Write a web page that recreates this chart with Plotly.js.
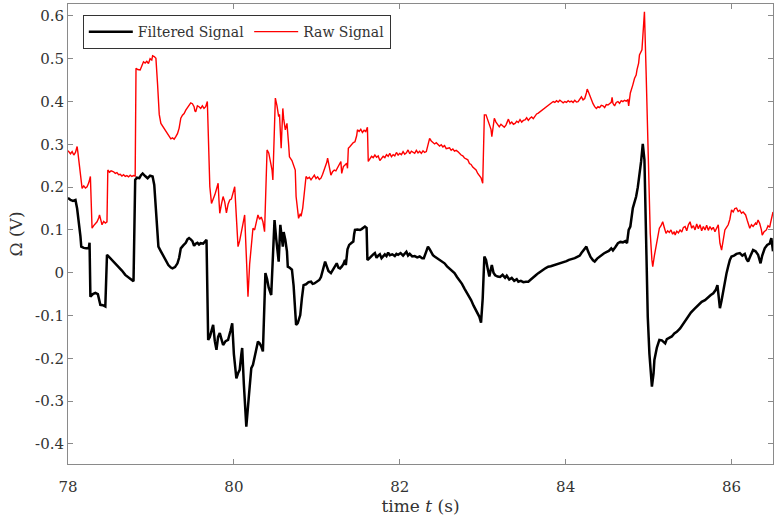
<!DOCTYPE html>
<html>
<head>
<meta charset="utf-8">
<script src="https://cdn.plot.ly/plotly-3.0.1.min.js"></script>
<style>html,body{margin:0;padding:0;background:#fff;}#chart{width:779px;height:524px;}</style>
</head>
<body>
<div id="chart"></div>
<script>
// Filtered signal
const filtT = [78.00,78.03,78.06,78.09,78.11,78.13,78.15,78.16,78.19,78.22,78.25,78.26,78.27,78.30,78.33,78.36,78.38,78.39,78.42,78.45,78.47,78.50,78.53,78.57,78.61,78.65,78.69,78.73,78.77,78.79,78.81,78.83,78.86,78.88,78.90,78.93,78.96,78.99,79.02,79.04,79.06,79.09,79.12,79.15,79.18,79.21,79.24,79.26,79.29,79.32,79.34,79.36,79.39,79.42,79.44,79.46,79.48,79.50,79.52,79.54,79.56,79.58,79.60,79.63,79.67,79.69,79.71,79.73,79.75,79.77,79.79,79.81,79.83,79.85,79.87,79.90,79.93,79.96,79.98,80.00,80.03,80.05,80.07,80.09,80.10,80.12,80.15,80.18,80.21,80.23,80.25,80.27,80.29,80.31,80.33,80.35,80.38,80.40,80.42,80.45,80.47,80.49,80.51,80.53,80.54,80.56,80.57,80.59,80.60,80.62,80.64,80.65,80.67,80.70,80.72,80.74,80.75,80.77,80.80,80.82,80.84,80.87,80.90,80.93,80.95,80.97,81.00,81.03,81.05,81.07,81.10,81.12,81.14,81.17,81.19,81.22,81.24,81.26,81.28,81.30,81.32,81.34,81.35,81.37,81.39,81.42,81.44,81.45,81.46,81.49,81.52,81.54,81.56,81.58,81.60,81.61,81.63,81.66,81.68,81.70,81.72,81.74,81.76,81.78,81.80,81.82,81.84,81.86,81.88,81.91,81.94,81.96,81.98,82.01,82.04,82.06,82.08,82.10,82.12,82.15,82.18,82.21,82.24,82.27,82.29,82.32,82.34,82.36,82.38,82.40,82.42,82.45,82.48,82.51,82.54,82.57,82.60,82.63,82.66,82.69,82.72,82.75,82.78,82.81,82.84,82.86,82.89,82.92,82.94,82.96,82.98,83.00,83.02,83.04,83.06,83.08,83.10,83.11,83.13,83.15,83.18,83.21,83.24,83.27,83.29,83.32,83.35,83.38,83.41,83.43,83.46,83.49,83.52,83.55,83.58,83.61,83.64,83.67,83.70,83.73,83.76,83.79,83.82,83.85,83.88,83.91,83.95,83.98,84.01,84.04,84.07,84.11,84.14,84.17,84.19,84.22,84.25,84.27,84.30,84.33,84.35,84.38,84.41,84.43,84.46,84.49,84.52,84.55,84.57,84.60,84.63,84.66,84.69,84.72,84.74,84.76,84.78,84.81,84.83,84.85,84.87,84.89,84.91,84.93,84.95,84.97,84.99,85.01,85.04,85.06,85.07,85.10,85.13,85.16,85.18,85.20,85.22,85.25,85.28,85.31,85.34,85.38,85.41,85.44,85.48,85.51,85.55,85.58,85.61,85.64,85.68,85.71,85.75,85.78,85.81,85.83,85.85,85.86,85.88,85.90,85.92,85.94,85.96,85.98,86.00,86.03,86.06,86.10,86.13,86.16,86.18,86.20,86.23,86.26,86.29,86.32,86.35,86.37,86.40,86.43,86.46,86.48,86.50];
const filtV = [0.175,0.170,0.168,0.170,0.150,0.123,0.085,0.061,0.058,0.057,0.057,0.070,-0.056,-0.050,-0.047,-0.050,-0.070,-0.075,-0.076,-0.079,0.042,0.036,0.030,0.022,0.014,0.005,-0.005,-0.010,-0.017,-0.020,0.217,0.222,0.221,0.228,0.232,0.226,0.221,0.227,0.225,0.205,0.140,0.061,0.050,0.040,0.030,0.018,0.012,0.010,0.013,0.022,0.035,0.057,0.064,0.070,0.078,0.081,0.078,0.074,0.063,0.068,0.070,0.066,0.069,0.068,0.077,-0.157,-0.150,-0.135,-0.122,-0.160,-0.180,-0.150,-0.141,-0.155,-0.169,-0.160,-0.157,-0.135,-0.118,-0.190,-0.247,-0.235,-0.227,-0.190,-0.176,-0.260,-0.360,-0.290,-0.223,-0.215,-0.196,-0.185,-0.161,-0.165,-0.172,-0.184,-0.001,-0.015,-0.035,-0.052,0.050,0.123,0.080,0.040,0.026,0.112,0.090,0.061,0.095,0.077,0.050,0.014,0.012,0.007,-0.030,-0.100,-0.122,-0.118,-0.099,-0.060,-0.029,-0.027,-0.022,-0.021,-0.026,-0.025,-0.020,-0.017,-0.010,0.005,0.026,0.015,0.004,-0.001,0.006,0.015,0.022,0.012,0.010,0.014,0.020,0.030,0.018,0.055,0.065,0.070,0.073,0.090,0.100,0.101,0.100,0.102,0.105,0.108,0.105,0.030,0.033,0.040,0.043,0.046,0.035,0.040,0.043,0.034,0.040,0.043,0.039,0.047,0.041,0.043,0.039,0.044,0.042,0.046,0.040,0.044,0.049,0.040,0.044,0.038,0.039,0.036,0.038,0.034,0.034,0.050,0.061,0.055,0.046,0.041,0.038,0.034,0.030,0.026,0.022,0.015,0.010,0.004,-0.001,-0.010,-0.017,-0.026,-0.037,-0.046,-0.058,-0.064,-0.077,-0.087,-0.095,-0.103,-0.117,-0.060,0.038,0.030,0.010,-0.009,0.010,0.018,0.000,-0.006,-0.009,-0.010,-0.005,-0.012,-0.007,-0.016,-0.012,-0.019,-0.015,-0.021,-0.019,-0.022,-0.021,-0.021,-0.016,-0.012,-0.006,-0.001,0.004,0.007,0.011,0.014,0.015,0.017,0.019,0.021,0.022,0.025,0.027,0.030,0.031,0.034,0.037,0.040,0.046,0.055,0.061,0.050,0.037,0.029,0.026,0.033,0.038,0.042,0.045,0.048,0.051,0.057,0.052,0.060,0.069,0.072,0.071,0.074,0.069,0.100,0.108,0.151,0.165,0.178,0.200,0.225,0.260,0.301,0.264,0.080,-0.103,-0.190,-0.266,-0.235,-0.204,-0.175,-0.157,-0.158,-0.162,-0.165,-0.155,-0.152,-0.149,-0.142,-0.138,-0.130,-0.121,-0.113,-0.099,-0.093,-0.085,-0.079,-0.074,-0.068,-0.064,-0.058,-0.052,-0.048,-0.040,-0.029,-0.060,-0.083,-0.065,-0.040,-0.018,-0.001,0.015,0.030,0.038,0.040,0.044,0.046,0.040,0.044,0.032,0.026,0.040,0.053,0.050,0.042,0.022,0.040,0.057,0.065,0.068,0.081,0.050];

// Raw signal
const rawT = [78.00,78.03,78.05,78.07,78.09,78.11,78.12,78.14,78.16,78.17,78.19,78.21,78.23,78.25,78.27,78.28,78.29,78.31,78.33,78.35,78.37,78.38,78.40,78.41,78.43,78.45,78.47,78.48,78.50,78.52,78.55,78.57,78.59,78.61,78.63,78.65,78.67,78.69,78.71,78.73,78.75,78.77,78.79,78.81,78.82,78.84,78.87,78.89,78.91,78.93,78.95,78.97,78.99,79.01,79.02,79.04,79.06,79.08,79.10,79.12,79.14,79.16,79.18,79.20,79.22,79.24,79.26,79.28,79.30,79.32,79.34,79.36,79.38,79.40,79.42,79.44,79.46,79.48,79.50,79.52,79.53,79.54,79.56,79.58,79.60,79.62,79.64,79.66,79.68,79.69,79.71,79.73,79.75,79.77,79.79,79.81,79.82,79.83,79.85,79.87,79.89,79.91,79.93,79.95,79.97,79.99,80.01,80.03,80.05,80.07,80.09,80.11,80.13,80.15,80.17,80.19,80.21,80.23,80.25,80.27,80.29,80.31,80.33,80.35,80.37,80.40,80.42,80.44,80.46,80.47,80.50,80.52,80.54,80.55,80.57,80.59,80.60,80.62,80.64,80.66,80.67,80.70,80.72,80.74,80.75,80.77,80.78,80.80,80.81,80.83,80.85,80.87,80.89,80.91,80.93,80.95,80.97,80.99,81.01,81.03,81.05,81.07,81.09,81.10,81.12,81.13,81.15,81.17,81.19,81.21,81.23,81.25,81.27,81.29,81.30,81.32,81.34,81.36,81.37,81.38,81.40,81.42,81.44,81.46,81.48,81.49,81.51,81.53,81.55,81.57,81.59,81.61,81.62,81.64,81.66,81.68,81.70,81.72,81.74,81.76,81.78,81.80,81.82,81.84,81.86,81.88,81.90,81.92,81.94,81.96,81.98,82.00,82.02,82.04,82.06,82.08,82.10,82.12,82.14,82.16,82.18,82.20,82.22,82.24,82.26,82.28,82.30,82.32,82.34,82.36,82.38,82.40,82.42,82.44,82.46,82.48,82.50,82.52,82.54,82.56,82.58,82.60,82.62,82.64,82.66,82.68,82.70,82.72,82.74,82.76,82.78,82.80,82.82,82.84,82.86,82.88,82.90,82.92,82.94,82.96,82.98,83.00,83.02,83.04,83.06,83.08,83.10,83.11,83.13,83.14,83.16,83.18,83.20,83.22,83.24,83.26,83.28,83.30,83.31,83.33,83.35,83.37,83.39,83.41,83.43,83.45,83.47,83.49,83.51,83.53,83.55,83.57,83.59,83.61,83.63,83.65,83.67,83.69,83.71,83.73,83.75,83.77,83.79,83.81,83.83,83.85,83.87,83.89,83.91,83.93,83.95,83.97,83.99,84.01,84.03,84.05,84.07,84.09,84.11,84.13,84.15,84.17,84.19,84.21,84.23,84.25,84.26,84.28,84.30,84.31,84.33,84.35,84.37,84.39,84.41,84.43,84.45,84.47,84.49,84.51,84.53,84.55,84.56,84.57,84.59,84.61,84.63,84.65,84.67,84.69,84.71,84.73,84.75,84.76,84.78,84.80,84.81,84.83,84.85,84.86,84.88,84.89,84.91,84.92,84.94,84.95,84.97,84.99,85.01,85.02,85.04,85.05,85.07,85.09,85.11,85.13,85.15,85.17,85.19,85.21,85.23,85.25,85.27,85.29,85.31,85.32,85.34,85.36,85.38,85.40,85.42,85.44,85.46,85.48,85.50,85.52,85.54,85.56,85.58,85.60,85.62,85.64,85.66,85.68,85.70,85.72,85.74,85.76,85.78,85.80,85.82,85.84,85.85,85.86,85.88,85.90,85.92,85.94,85.96,85.98,86.00,86.02,86.04,86.06,86.08,86.10,86.12,86.14,86.17,86.19,86.22,86.24,86.26,86.29,86.30,86.32,86.34,86.36,86.37,86.39,86.42,86.44,86.46,86.47,86.49,86.50];
const rawV = [0.285,0.278,0.283,0.275,0.281,0.295,0.280,0.248,0.225,0.197,0.203,0.198,0.201,0.210,0.225,0.180,0.104,0.110,0.115,0.119,0.128,0.135,0.120,0.112,0.120,0.116,0.119,0.240,0.235,0.238,0.236,0.232,0.234,0.229,0.230,0.226,0.229,0.225,0.227,0.224,0.228,0.225,0.227,0.226,0.478,0.475,0.474,0.485,0.493,0.490,0.494,0.489,0.500,0.497,0.507,0.505,0.501,0.440,0.370,0.349,0.343,0.336,0.330,0.322,0.316,0.313,0.315,0.312,0.318,0.325,0.338,0.361,0.368,0.372,0.380,0.385,0.390,0.397,0.395,0.388,0.378,0.376,0.390,0.388,0.384,0.390,0.384,0.388,0.400,0.330,0.201,0.162,0.170,0.182,0.195,0.209,0.170,0.139,0.160,0.178,0.165,0.140,0.160,0.170,0.172,0.185,0.201,0.130,0.061,0.075,0.092,0.115,0.135,0.040,-0.056,0.020,0.070,0.104,0.100,0.120,0.135,0.125,0.130,0.119,0.096,0.287,0.280,0.260,0.240,0.217,0.408,0.390,0.365,0.370,0.291,0.384,0.360,0.334,0.349,0.300,0.271,0.262,0.252,0.240,0.178,0.140,0.127,0.138,0.132,0.151,0.190,0.225,0.220,0.223,0.217,0.222,0.228,0.220,0.224,0.218,0.221,0.230,0.240,0.248,0.258,0.268,0.245,0.228,0.236,0.240,0.238,0.246,0.252,0.260,0.232,0.248,0.252,0.256,0.244,0.291,0.295,0.300,0.304,0.306,0.320,0.334,0.330,0.335,0.328,0.333,0.330,0.340,0.260,0.266,0.272,0.269,0.275,0.270,0.273,0.262,0.268,0.272,0.269,0.276,0.272,0.279,0.271,0.276,0.273,0.281,0.275,0.279,0.276,0.283,0.277,0.280,0.287,0.278,0.284,0.281,0.279,0.286,0.280,0.284,0.279,0.285,0.281,0.283,0.300,0.314,0.308,0.305,0.301,0.304,0.299,0.296,0.299,0.294,0.297,0.290,0.291,0.292,0.286,0.289,0.284,0.286,0.283,0.278,0.275,0.273,0.268,0.266,0.264,0.255,0.253,0.247,0.244,0.240,0.232,0.228,0.222,0.209,0.369,0.369,0.356,0.349,0.335,0.318,0.340,0.361,0.352,0.346,0.341,0.347,0.344,0.340,0.345,0.352,0.359,0.348,0.352,0.347,0.349,0.354,0.351,0.358,0.352,0.356,0.357,0.362,0.356,0.361,0.364,0.360,0.365,0.371,0.373,0.376,0.379,0.380,0.384,0.387,0.390,0.393,0.396,0.400,0.398,0.402,0.399,0.403,0.400,0.397,0.400,0.398,0.402,0.399,0.401,0.398,0.403,0.399,0.400,0.405,0.411,0.404,0.407,0.420,0.429,0.420,0.408,0.404,0.395,0.388,0.384,0.388,0.386,0.391,0.390,0.386,0.393,0.392,0.396,0.398,0.410,0.396,0.390,0.398,0.400,0.396,0.402,0.400,0.403,0.401,0.404,0.390,0.420,0.431,0.439,0.454,0.462,0.474,0.490,0.509,0.515,0.521,0.580,0.610,0.470,0.326,0.180,0.092,0.030,0.014,0.040,0.061,0.090,0.104,0.110,0.119,0.105,0.092,0.098,0.094,0.100,0.090,0.096,0.088,0.097,0.093,0.100,0.095,0.106,0.108,0.098,0.112,0.119,0.104,0.110,0.100,0.114,0.103,0.112,0.098,0.108,0.100,0.111,0.099,0.108,0.101,0.106,0.096,0.104,0.112,0.090,0.069,0.053,0.080,0.100,0.106,0.112,0.125,0.147,0.142,0.150,0.151,0.143,0.146,0.139,0.142,0.135,0.122,0.104,0.112,0.108,0.116,0.112,0.123,0.115,0.100,0.088,0.095,0.100,0.110,0.106,0.116,0.135,0.142];

const xTicks = [78, 80, 82, 84, 86];
const yTicks = [0.6, 0.5, 0.4, 0.3, 0.2, 0.1, 0, -0.1, -0.2, -0.3, -0.4];
const yTickText = ['0.6','0.5','0.4','0.3','0.2','0.1','0','-0.1','-0.2','-0.3','-0.4'];

const serif = 'DejaVu Serif, serif';
const axisCol = '#8a8a8a';

const traces = [
  {x: filtT, y: filtV, type: 'scatter', mode: 'lines', name: 'Filtered Signal',
   line: {color: '#000000', width: 2.5}},
  {x: rawT, y: rawV, type: 'scatter', mode: 'lines', name: 'Raw Signal',
   line: {color: '#ff0000', width: 1.4}}
];

const layout = {
  width: 779, height: 524,
  margin: {l: 68, r: 6, t: 4, b: 60},
  paper_bgcolor: '#ffffff', plot_bgcolor: '#ffffff',
  showlegend: true,
  legend: {
    x: 0.021, y: 0.976, xanchor: 'left', yanchor: 'top',
    orientation: 'h', bgcolor: '#ffffff', bordercolor: '#333333', borderwidth: 1,
    itemwidth: 44,
    font: {family: serif, size: 14, color: '#333333'}
  },
  xaxis: {
    range: [78, 86.5], tickvals: xTicks, ticktext: xTicks.map(String),
    ticks: 'inside', ticklen: 5, tickwidth: 1, tickcolor: axisCol,
    showline: true, linecolor: axisCol, linewidth: 1, mirror: 'allticks',
    showgrid: false, zeroline: false, ticklabelstandoff: 9,
    tickfont: {family: serif, size: 15, color: '#333333'},
    title: {text: 'time <i>t</i> (s)', font: {family: serif, size: 17, color: '#333333'}, standoff: 3}
  },
  yaxis: {
    range: [-0.447, 0.628], tickvals: yTicks, ticktext: yTickText,
    ticks: 'inside', ticklen: 5, tickwidth: 1, tickcolor: axisCol,
    showline: true, linecolor: axisCol, linewidth: 1, mirror: 'allticks',
    showgrid: false, zeroline: false,
    tickfont: {family: serif, size: 15, color: '#333333'},
    title: {text: 'Ω (V)', font: {family: serif, size: 17, color: '#333333'}, standoff: 8}
  }
};

Plotly.newPlot('chart', traces, layout, {displayModeBar: false, staticPlot: true});
</script>
</body>
</html>
